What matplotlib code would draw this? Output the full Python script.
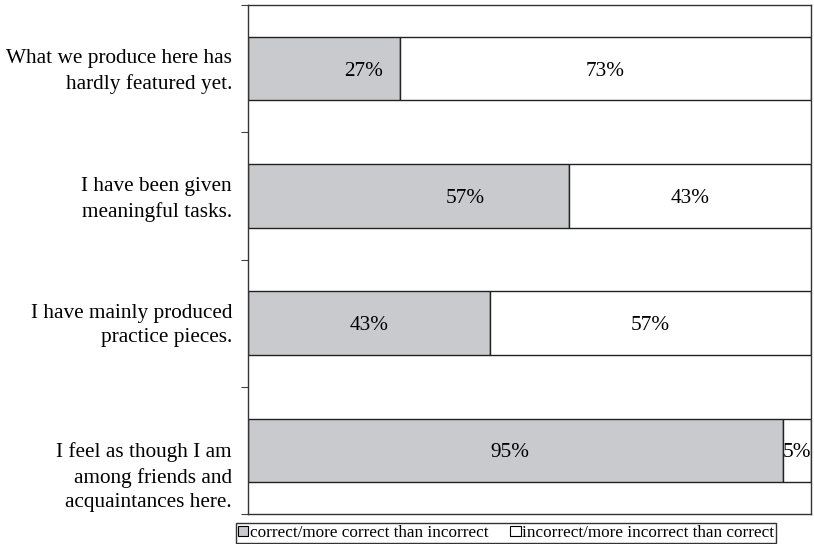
import numpy as np
import matplotlib.pyplot as plt
from matplotlib.patches import Patch

plt.rcParams['font.family'] = ['Liberation Serif', 'DejaVu Serif']

statements = [
    'What we produce here has\nhardly featured yet.',
    'I have been given\nmeaningful tasks.',
    'I have mainly produced\npractice pieces.',
    'I feel as though I am\namong friends and\nacquaintances here.',
]
correct = [27, 57, 43, 95]
incorrect = [73, 43, 57, 5]
# label nudges (in percent units) for the "correct" value text
correct_label_shift = [7, 10, 0, -1]
# vertical nudges (in category units) for the statement text
statement_shift = [0.02, 0.03, 0.02, 0.21]
series_names = ['correct/more correct than incorrect',
                'incorrect/more incorrect than correct']

fig = plt.figure(figsize=(8.14, 5.44), dpi=100)
ax = fig.add_axes([248 / 814, 30 / 544, 563 / 814, 509 / 544])

y = np.arange(len(statements))
left_bars = ax.barh(y, correct, height=0.5, color='#c8cacd',
                    edgecolor='#222222', linewidth=1.0)
right_bars = ax.barh(y, incorrect, left=correct, height=0.5, color='white',
                     edgecolor='#222222', linewidth=1.0)

for yi, v, dx in zip(y, correct, correct_label_shift):
    ax.text(v / 2 + dx, yi, f'{v}%', ha='center', va='center_baseline', fontsize=15.3)
for yi, v, s in zip(y, incorrect, correct):
    ax.text(s + v / 2, yi, f'{v}%', ha='center', va='center_baseline', fontsize=15.3)

# statements drawn as text so each one can sit where it belongs
trans = ax.get_yaxis_transform()
for yi, label, dy in zip(y, statements, statement_shift):
    ax.text(-16 / 563, yi + dy, label, transform=trans, ha='right', va='center',
            fontsize=15.3, linespacing=1.4)

ax.set_xlim(0, 100)
ax.set_ylim(len(statements) - 0.5, -0.5)
ax.set_xticks([])
ax.set_yticks(np.arange(-0.5, len(statements)))
ax.set_yticklabels([])
ax.tick_params(axis='y', which='major', length=5, width=0.8, color='#444444')
for side in ['top', 'bottom', 'left', 'right']:
    ax.spines[side].set_color('#333333')
    ax.spines[side].set_linewidth(1.0)

handles = [Patch(facecolor='#c8cacd', edgecolor='black', linewidth=0.8),
           Patch(facecolor='white', edgecolor='black', linewidth=0.8)]
fig.legend(handles, series_names, loc='center', bbox_to_anchor=(506 / 814, 1 - 533 / 544),
           ncol=2, fontsize=12.3, frameon=True, fancybox=False, edgecolor='black',
           handlelength=0.6, handleheight=0.6, handletextpad=0.1,
           columnspacing=1.3, borderpad=0.1, borderaxespad=0)

fig.savefig('out.png', dpi=100)
